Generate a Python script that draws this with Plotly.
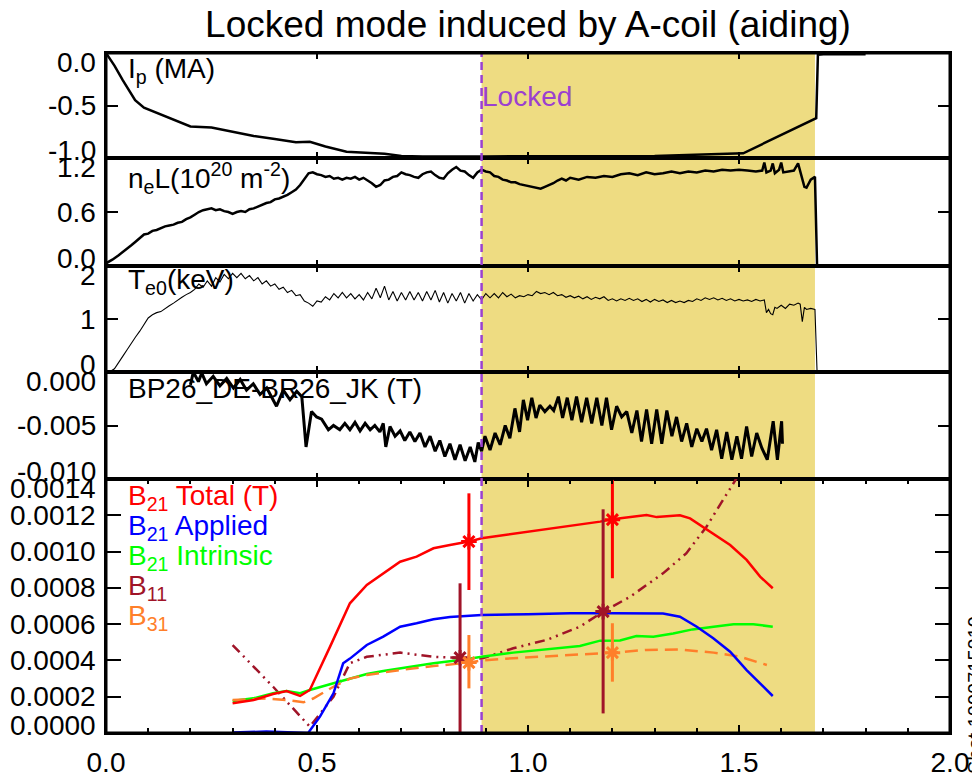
import plotly.graph_objects as go
from plotly.subplots import make_subplots

# ---------------- data ----------------
ip_t = [0.0, 0.02, 0.04, 0.069, 0.09, 0.12, 0.16, 0.20, 0.25, 0.30, 0.35, 0.40, 0.45, 0.483, 0.52, 0.57,
        0.62, 0.66, 0.70, 0.75, 0.90, 1.10, 1.30, 1.51, 1.683, 1.687, 1.70, 1.80]
ip_v = [0.0, -0.12, -0.26, -0.45, -0.52, -0.57, -0.64, -0.70, -0.71, -0.75, -0.79, -0.82, -0.85, -0.845, -0.89, -0.94,
        -0.955, -0.96, -0.98, -0.985, -0.985, -0.98, -0.98, -0.955, -0.62, -0.016, -0.012, -0.012]

ne_t = [0.000, 0.015, 0.030, 0.045, 0.060, 0.070, 0.080, 0.090, 0.100, 0.110, 0.120, 0.130, 0.140, 0.150, 0.160,
        0.170, 0.180, 0.190, 0.200, 0.210, 0.220, 0.230, 0.240, 0.250, 0.260, 0.270, 0.280, 0.290, 0.300, 0.310,
        0.320, 0.330, 0.340, 0.350, 0.360, 0.370, 0.380, 0.390, 0.400, 0.410, 0.420, 0.430, 0.440, 0.450, 0.460,
        0.470, 0.480, 0.490, 0.500, 0.510, 0.520, 0.530, 0.540, 0.550, 0.560, 0.570, 0.580, 0.590, 0.600, 0.610,
        0.620, 0.630, 0.640, 0.650, 0.660, 0.670, 0.680, 0.690, 0.700, 0.710, 0.720, 0.730, 0.740, 0.750, 0.760,
        0.770, 0.780, 0.790, 0.800, 0.810, 0.820, 0.830, 0.840, 0.850, 0.860, 0.870, 0.880, 0.890, 0.900, 0.910,
        0.920, 0.930, 0.940, 0.950, 0.960, 0.970, 0.980, 0.990, 1.000, 1.010, 1.020, 1.030, 1.040, 1.050, 1.060,
        1.070, 1.080, 1.090, 1.100, 1.120, 1.140, 1.160, 1.180, 1.200, 1.220, 1.240, 1.260, 1.280, 1.300, 1.320,
        1.340, 1.360, 1.380, 1.400, 1.420, 1.440, 1.460, 1.480, 1.500, 1.520, 1.540, 1.555, 1.560, 1.565, 1.575,
        1.580, 1.585, 1.595, 1.600, 1.605, 1.620, 1.630, 1.640, 1.645, 1.655, 1.660, 1.670, 1.680, 1.685, 2.000]
ne_v = [0.03, 0.07, 0.12, 0.17, 0.23, 0.27, 0.31, 0.35, 0.36, 0.39, 0.40, 0.42, 0.44, 0.45, 0.46,
        0.48, 0.49, 0.52, 0.54, 0.57, 0.60, 0.62, 0.63, 0.64, 0.62, 0.63, 0.61, 0.60, 0.58, 0.60,
        0.61, 0.60, 0.63, 0.64, 0.66, 0.68, 0.70, 0.71, 0.74, 0.75, 0.77, 0.79, 0.82, 0.85, 0.90,
        0.97, 1.03, 1.04, 1.02, 1.01, 0.99, 1.00, 0.97, 0.98, 0.96, 0.98, 0.97, 0.99, 0.96, 0.98,
        0.95, 0.92, 0.88, 0.90, 0.95, 0.96, 0.99, 1.00, 1.04, 1.02, 1.01, 0.99, 0.98, 1.02, 1.04,
        1.05, 1.01, 0.98, 0.97, 1.03, 1.07, 1.10, 1.06, 1.05, 1.01, 0.98, 1.04, 1.07, 1.05, 1.04,
        1.00, 0.99, 0.96, 0.95, 0.93, 0.93, 0.91, 0.90, 0.89, 0.88, 0.87, 0.86, 0.88, 0.90, 0.92,
        0.95, 0.97, 0.95, 0.98, 0.96, 0.99, 0.98, 1.00, 0.99, 1.02, 1.03, 1.01, 1.04, 1.02, 1.03,
        1.05, 1.03, 1.05, 1.04, 1.06, 1.05, 1.07, 1.06, 1.07, 1.06, 1.05, 1.06, 1.15, 1.04, 1.06,
        1.14, 1.03, 1.07, 1.15, 1.04, 1.05, 1.06, 1.14, 1.05, 0.88, 0.87, 0.96, 0.99, 0.0, 0.0]

te_t = [0.00, 0.01, 0.02, 0.03, 0.04, 0.05, 0.06, 0.07, 0.08, 0.09, 0.10, 0.11, 0.12, 0.13, 0.14, 0.15, 0.16,
        0.17, 0.18, 0.19, 0.20, 0.21, 0.22, 0.23, 0.24, 0.25, 0.26, 0.27, 0.28, 0.29, 0.30, 0.31, 0.32, 0.33,
        0.34, 0.35, 0.36, 0.37, 0.38, 0.39, 0.40, 0.41, 0.42, 0.43, 0.44, 0.45, 0.46, 0.47, 0.48, 0.49, 0.50,
        0.51, 0.52, 0.53, 0.54, 0.55, 0.56, 0.57, 0.58, 0.59, 0.60, 0.61, 0.62, 0.63, 0.64, 0.65, 0.66, 0.67,
        0.68, 0.69, 0.70, 0.71, 0.72, 0.73, 0.74, 0.75, 0.76, 0.77, 0.78, 0.79, 0.80, 0.81, 0.82, 0.83, 0.84,
        0.85, 0.86, 0.87, 0.88, 0.89, 0.90, 0.91, 0.92, 0.93, 0.94, 0.95, 0.96, 0.97, 0.98, 0.99, 1.00, 1.01,
        1.02, 1.03, 1.04, 1.05, 1.06, 1.07, 1.08, 1.09, 1.10, 1.11, 1.12, 1.13, 1.14, 1.15, 1.16, 1.17, 1.18,
        1.19, 1.20, 1.21, 1.22, 1.23, 1.24, 1.25, 1.26, 1.27, 1.28, 1.29, 1.30, 1.31, 1.32, 1.33, 1.34, 1.35,
        1.36, 1.37, 1.38, 1.39, 1.40, 1.41, 1.42, 1.43, 1.44, 1.45, 1.46, 1.47, 1.48, 1.49, 1.50, 1.51, 1.52,
        1.53, 1.54, 1.55, 1.56, 1.565, 1.57, 1.575, 1.58, 1.585, 1.59, 1.60, 1.61, 1.62, 1.63, 1.64, 1.645,
        1.65, 1.655, 1.66, 1.67, 1.68, 1.685, 1.75, 1.85, 1.95, 2.00]
te_v = [0.00, 0.01, 0.06, 0.17, 0.30, 0.42, 0.55, 0.66, 0.77, 0.90, 1.02, 1.08, 1.12, 1.14, 1.20, 1.25, 1.30,
        1.36, 1.41, 1.46, 1.50, 1.56, 1.66, 1.60, 1.72, 1.62, 1.78, 1.70, 1.84, 1.76, 1.86, 1.78, 1.86, 1.76,
        1.82, 1.72, 1.78, 1.66, 1.72, 1.62, 1.66, 1.56, 1.60, 1.50, 1.54, 1.44, 1.46, 1.34, 1.30, 1.24, 1.34,
        1.32, 1.42, 1.36, 1.48, 1.40, 1.50, 1.40, 1.48, 1.38, 1.46, 1.36, 1.50, 1.38, 1.58, 1.40, 1.62, 1.36,
        1.52, 1.34, 1.50, 1.36, 1.52, 1.36, 1.50, 1.34, 1.52, 1.36, 1.54, 1.32, 1.50, 1.30, 1.48, 1.34, 1.50,
        1.30, 1.48, 1.34, 1.46, 1.36, 1.48, 1.40, 1.48, 1.40, 1.50, 1.42, 1.47, 1.40, 1.44, 1.42, 1.46, 1.44,
        1.52, 1.48, 1.50, 1.46, 1.50, 1.44, 1.46, 1.41, 1.44, 1.40, 1.43, 1.38, 1.42, 1.37, 1.41, 1.38, 1.42,
        1.35, 1.38, 1.34, 1.38, 1.35, 1.39, 1.35, 1.38, 1.33, 1.37, 1.32, 1.37, 1.33, 1.36, 1.31, 1.35, 1.31,
        1.34, 1.31, 1.35, 1.33, 1.38, 1.35, 1.40, 1.37, 1.40, 1.36, 1.39, 1.35, 1.38, 1.34, 1.37, 1.34, 1.36,
        1.33, 1.37, 1.34, 1.36, 1.12, 1.18, 1.10, 1.08, 1.22, 1.20, 1.26, 1.20, 1.28, 1.26, 1.30, 1.28,
        0.95, 1.22, 1.18, 1.20, 1.18, 0.00, 0.01, 0.00, 0.02, 0.01]

bp_t = [0.200, 0.207, 0.219, 0.227, 0.238, 0.254, 0.270, 0.286, 0.302, 0.318, 0.333, 0.349, 0.365, 0.381, 0.404,
        0.420, 0.436, 0.452, 0.464, 0.474, 0.487, 0.499, 0.511, 0.527, 0.539, 0.554, 0.566, 0.578, 0.590, 0.602,
        0.614, 0.626, 0.637, 0.649, 0.657, 0.663, 0.673, 0.685, 0.697, 0.708, 0.720, 0.732, 0.744, 0.756, 0.768,
        0.780, 0.791, 0.803, 0.815, 0.827, 0.839, 0.851, 0.863, 0.874, 0.882, 0.890, 0.898, 0.910, 0.922, 0.934,
        0.946, 0.957, 0.969, 0.980, 0.989, 0.999, 1.009, 1.019, 1.028, 1.040, 1.052, 1.061, 1.072, 1.082, 1.093,
        1.104, 1.115, 1.127, 1.139, 1.151, 1.163, 1.175, 1.186, 1.198, 1.210, 1.222, 1.234, 1.246, 1.258, 1.269,
        1.281, 1.293, 1.305, 1.317, 1.329, 1.341, 1.352, 1.364, 1.376, 1.388, 1.400, 1.412, 1.423, 1.435, 1.447,
        1.459, 1.471, 1.483, 1.495, 1.506, 1.518, 1.530, 1.542, 1.554, 1.567, 1.581, 1.591, 1.601, 1.603]
bp_v = [-0.0012, 0.0000, -0.0009, -0.0001, -0.0011, -0.0004, -0.0013, -0.0006, -0.0015, -0.0007, -0.0017, -0.0011,
        -0.0021, -0.0015, -0.0032, -0.0017, -0.0026, -0.0018, -0.0023, -0.0070, -0.0037, -0.0042, -0.0044, -0.0054,
        -0.0050, -0.0054, -0.0048, -0.0054, -0.0047, -0.0055, -0.0048, -0.0054, -0.0050, -0.0056, -0.0048, -0.0070,
        -0.0051, -0.0060, -0.0055, -0.0064, -0.0056, -0.0065, -0.0057, -0.0070, -0.0060, -0.0074, -0.0064, -0.0079,
        -0.0067, -0.0082, -0.0068, -0.0083, -0.0070, -0.0084, -0.0066, -0.0074, -0.0060, -0.0073, -0.0057, -0.0068,
        -0.0050, -0.0062, -0.0034, -0.0056, -0.0026, -0.0045, -0.0024, -0.0043, -0.0031, -0.0037, -0.0032, -0.0036,
        -0.0023, -0.0043, -0.0024, -0.0045, -0.0023, -0.0047, -0.0024, -0.0048, -0.0024, -0.0050, -0.0024, -0.0054,
        -0.0032, -0.0042, -0.0037, -0.0057, -0.0036, -0.0065, -0.0035, -0.0067, -0.0035, -0.0067, -0.0036, -0.0060,
        -0.0042, -0.0065, -0.0048, -0.0070, -0.0053, -0.0065, -0.0053, -0.0073, -0.0054, -0.0081, -0.0056, -0.0082,
        -0.0060, -0.0081, -0.0051, -0.0079, -0.0057, -0.0071, -0.0082, -0.0046, -0.0082, -0.0046, -0.0067]

red_t = [0.30, 0.35, 0.396, 0.428, 0.46, 0.483, 0.531, 0.578, 0.618, 0.657, 0.697, 0.736, 0.776, 0.815, 0.86,
         0.89, 0.965, 1.005, 1.06, 1.123, 1.171, 1.2, 1.242, 1.281, 1.305, 1.36, 1.384, 1.423, 1.479, 1.518, 1.55, 1.58]
red_v = [0.000164, 0.000182, 0.000215, 0.000231, 0.000204, 0.000237, 0.000476, 0.000715, 0.000816, 0.00088,
         0.000944, 0.000972, 0.001018, 0.001036, 0.001055, 0.001073, 0.001097, 0.00111, 0.001128, 0.001146,
         0.001165, 0.001178, 0.001189, 0.001202, 0.00119, 0.0012, 0.001183, 0.001123, 0.001036, 0.000954,
         0.000862, 0.000798]

blue_t = [0.30, 0.38, 0.479, 0.507, 0.539, 0.562, 0.578, 0.618, 0.657, 0.697, 0.736, 0.776, 0.815, 0.89, 1.0,
          1.1, 1.2, 1.3, 1.32, 1.36, 1.40, 1.439, 1.479, 1.518, 1.58]
blue_v = [0.000003, 0.000008, 0.000000, 0.00009, 0.000219, 0.000384, 0.00041, 0.000485, 0.000531, 0.000586,
          0.000605, 0.000627, 0.00064, 0.00065, 0.000655, 0.00066, 0.00066, 0.00066, 0.000658, 0.000641,
          0.000586, 0.000522, 0.000448, 0.000347, 0.000204]

green_t = [0.30, 0.349, 0.396, 0.428, 0.46, 0.483, 0.539, 0.578, 0.618, 0.657, 0.697, 0.776, 0.854, 0.89, 0.965,
           1.044, 1.123, 1.171, 1.218, 1.257, 1.297, 1.344, 1.39, 1.44, 1.487, 1.534, 1.58]
green_v = [0.000176, 0.000191, 0.000219, 0.000232, 0.000219, 0.000237, 0.000274, 0.000301, 0.000325, 0.000342,
           0.000357, 0.000384, 0.000406, 0.00042, 0.000443, 0.000461, 0.00048, 0.000509, 0.00051, 0.000535,
           0.00053, 0.000549, 0.000571, 0.000586, 0.000599, 0.000599, 0.000586]

orange_t = [0.30, 0.381, 0.428, 0.468, 0.491, 0.539, 0.578, 0.618, 0.697, 0.776, 0.86, 0.89, 0.965, 1.044,
            1.123, 1.2, 1.281, 1.36, 1.44, 1.503, 1.566]
orange_v = [0.000182, 0.00019, 0.000182, 0.000169, 0.00019, 0.000255, 0.0003, 0.00032, 0.000347, 0.000369,
            0.000388, 0.0004, 0.000412, 0.000422, 0.000434, 0.000443, 0.000458, 0.00046, 0.000443, 0.00042, 0.000375]

b11_t = [0.30, 0.396, 0.483, 0.539, 0.578, 0.618, 0.697, 0.776, 0.839, 0.89, 0.965, 1.044, 1.123, 1.178, 1.242,
         1.32, 1.375, 1.423, 1.462, 1.494, 1.52]
b11_v = [0.000485, 0.000255, 0.000035, 0.0002, 0.000385, 0.00042, 0.000443, 0.00042, 0.000415, 0.00041,
         0.000467, 0.000513, 0.000586, 0.000669, 0.000751, 0.00088, 0.00099, 0.001137, 0.001284, 0.0014, 0.0015]

# error-bar points (value, upper end, lower end)
red_err_t = [0.86, 1.2]
red_err_v = [0.001055, 0.001176]
red_err_hi = [0.001321, 0.001395]
red_err_lo = [0.000788, 0.000853]
b11_err_t = [0.839, 1.178]
b11_err_v = [0.000415, 0.000669]
b11_err_hi = [0.000825, 0.001233]
b11_err_lo = [0.0, 0.000108]
orange_err_t = [0.86, 1.2]
orange_err_v = [0.000388, 0.000443]
orange_err_hi = [0.00054, 0.000605]
orange_err_lo = [0.000246, 0.000283]

locked_t = 0.89
shade_end_t = 1.68

p1_ticks = [0.0, -0.5, -1.0]
p1_labels = ["0.0", "-0.5", "-1.0"]
p2_ticks = [1.2, 0.6, 0.0]
p2_labels = ["1.2", "0.6", "0.0"]
p3_ticks = [2, 1, 0]
p3_labels = ["2", "1", "0"]
p4_ticks = [0.0, -0.005, -0.010]
p4_labels = ["0.000", "-0.005", "-0.010"]
p5_ticks = [0.0014, 0.0012, 0.0010, 0.0008, 0.0006, 0.0004, 0.0002, 0.0]
p5_labels = ["0.0014", "0.0012", "0.0010", "0.0008", "0.0006", "0.0004", "0.0002", "0.0000"]
x_ticks = [0.0, 0.5, 1.0, 1.5, 2.0]
x_labels = ["0.0", "0.5", "1.0", "1.5", "2.0"]

# ---------------- styling ----------------
FONT = "Liberation Sans"
FS = 28
RED = "#FF0000"
BLUE = "#0000FF"
GREEN = "#00FF00"
DRED = "#A01428"
ORANGE = "#FF7F2A"
PURPLE = "#9B40D0"
SHADE = "#EEDC82"

W, H = 972, 777
L, R, T, B = 106, 22, 53, 44
PW, PH = W - L - R, H - T - B


def px(xp):
    return (xp - L) / PW


def py(yp):
    return (H - B - yp) / PH


fig = make_subplots(rows=5, cols=1, shared_xaxes=True, vertical_spacing=0,
                    row_heights=[105, 108, 106, 107, 254])

fig.add_trace(go.Scatter(x=ip_t, y=ip_v, mode="lines", line=dict(color="black", width=2.5)), row=1, col=1)
fig.add_trace(go.Scatter(x=ne_t, y=ne_v, mode="lines", line=dict(color="black", width=2.5)), row=2, col=1)
fig.add_trace(go.Scatter(x=te_t, y=te_v, mode="lines", line=dict(color="black", width=1.1)), row=3, col=1)
fig.add_trace(go.Scatter(x=bp_t, y=bp_v, mode="lines", line=dict(color="black", width=3)), row=4, col=1)

fig.add_trace(go.Scatter(x=b11_t, y=b11_v, mode="lines",
                         line=dict(color=DRED, width=2.5, dash="10px,5px,2px,5px,2px,5px")), row=5, col=1)
fig.add_trace(go.Scatter(x=green_t, y=green_v, mode="lines", line=dict(color=GREEN, width=2.5)), row=5, col=1)
fig.add_trace(go.Scatter(x=orange_t, y=orange_v, mode="lines",
                         line=dict(color=ORANGE, width=2.5, dash="13px,7px")), row=5, col=1)
fig.add_trace(go.Scatter(x=blue_t, y=blue_v, mode="lines", line=dict(color=BLUE, width=2.5)), row=5, col=1)
fig.add_trace(go.Scatter(x=red_t, y=red_v, mode="lines", line=dict(color=RED, width=2.5)), row=5, col=1)


def err_trace(t, v, hi, lo, color):
    return go.Scatter(
        x=t, y=v, mode="markers",
        marker=dict(symbol="asterisk-open", size=13, color=color, line=dict(color=color, width=3)),
        error_y=dict(type="data", symmetric=False,
                     array=[h - a for h, a in zip(hi, v)],
                     arrayminus=[a - l for a, l in zip(v, lo)],
                     width=0, thickness=3, color=color))


fig.add_trace(err_trace(b11_err_t, b11_err_v, b11_err_hi, b11_err_lo, DRED), row=5, col=1)
fig.add_trace(err_trace(orange_err_t, orange_err_v, orange_err_hi, orange_err_lo, ORANGE), row=5, col=1)
fig.add_trace(err_trace(red_err_t, red_err_v, red_err_hi, red_err_lo, RED), row=5, col=1)

# shaded locked interval and locked marker line
fig.add_shape(type="rect", xref="x5", yref="paper", x0=locked_t, x1=shade_end_t, y0=0, y1=1,
              fillcolor=SHADE, line=dict(width=0), layer="below")
fig.add_shape(type="line", xref="x5", yref="paper", x0=locked_t, x1=locked_t, y0=0, y1=1,
              line=dict(color=PURPLE, width=2.5, dash="8px,5px"), layer="above")
# outer frame
fig.add_shape(type="rect", xref="paper", yref="paper", x0=0, x1=1, y0=0, y1=1,
              line=dict(color="black", width=3), fillcolor="rgba(0,0,0,0)", layer="above")

ranges = [[-1.0, 0.0], [0.0, 1.2], [0.0, 2.0], [-0.010, 0.0], [0.0, 0.0014]]
tickv = [p1_ticks, p2_ticks, p3_ticks, p4_ticks, p5_ticks]
tickl = [p1_labels, p2_labels, p3_labels, p4_labels, p5_labels]

for i in range(5):
    r = i + 1
    fig.update_yaxes(row=r, col=1, range=ranges[i], tickvals=tickv[i], showticklabels=False,
                     ticks="inside", ticklen=15 if r == 5 else 12, tickwidth=2, tickcolor="black",
                     showline=True, linecolor="black", linewidth=1.5, mirror="ticks",
                     showgrid=False, zeroline=False, fixedrange=True, automargin=False)
    fig.update_xaxes(row=r, col=1, range=[0, 2.0], tickvals=x_ticks, ticktext=x_labels,
                     ticks="inside", ticklen=8 if r == 5 else 6, tickwidth=2, tickcolor="black",
                     showline=True, linecolor="black", linewidth=1.6, mirror="ticks",
                     showgrid=False, zeroline=False, showticklabels=(r == 5), automargin=False)

fig.update_xaxes(row=5, col=1, minor=dict(dtick=0.1, ticks="inside", ticklen=5, tickwidth=2, tickcolor="black"),
                 tickfont=dict(family=FONT, size=FS, color="black"), ticklabelstandoff=4)

annotations = []
# y tick labels
for i in range(5):
    yref = "y" if i == 0 else "y%d" % (i + 1)
    n = len(tickv[i])
    for j, (val, lab) in enumerate(zip(tickv[i], tickl[i])):
        shift = -9 if j == 0 else (8 if j == n - 1 else 0)
        annotations.append(dict(x=px(98), y=val, xref="paper", yref=yref, text=lab, showarrow=False,
                                xanchor="right", yanchor="middle", yshift=shift,
                                font=dict(family=FONT, size=FS, color="black")))

# panel labels
panel_labels = [
    ("I<sub>p</sub> (MA)", 70),
    ("n<sub>e</sub>L(10<sup>20</sup> m<sup>-2</sup>)", 178),
    ("T<sub>e0</sub>(keV)", 281),
    ("BP26_DE-BR26_JK (T)", 388),
]
for txt, yc in panel_labels:
    annotations.append(dict(x=px(126), y=py(yc), xref="paper", yref="paper", text=txt, showarrow=False,
                            xanchor="left", yanchor="middle", font=dict(family=FONT, size=FS, color="black")))

legend_items = [
    ("B<sub>21</sub> Total (T)", RED, 497),
    ("B<sub>21</sub> Applied", BLUE, 527),
    ("B<sub>21</sub> Intrinsic", GREEN, 557),
    ("B<sub>11</sub>", DRED, 587),
    ("B<sub>31</sub>", ORANGE, 617),
]
for txt, col, yc in legend_items:
    annotations.append(dict(x=px(126), y=py(yc), xref="paper", yref="paper", text=txt, showarrow=False,
                            xanchor="left", yanchor="middle", font=dict(family=FONT, size=FS, color=col)))

annotations.append(dict(x=locked_t, y=py(96), xref="x5", yref="paper", text="Locked", showarrow=False,
                        xanchor="left", yanchor="middle", xshift=-2,
                        font=dict(family=FONT, size=FS, color=PURPLE)))

annotations.append(dict(x=px(975), y=py(695), xref="paper", yref="paper", text="Shot 1090715019",
                        showarrow=False, textangle=-90, xanchor="center", yanchor="middle",
                        font=dict(family=FONT, size=20, color="black")))

fig.update_layout(
    width=W, height=H, autosize=False,
    margin=dict(l=L, r=R, t=T, b=B, autoexpand=False),
    paper_bgcolor="white", plot_bgcolor="white",
    showlegend=False,
    title=dict(text="Locked mode induced by A-coil (aiding)", x=0.5, xref="paper",
               y=1 - 24 / H, yref="container", yanchor="middle", xanchor="center",
               font=dict(family=FONT, size=37, color="black")),
    annotations=annotations,
)

fig.write_html("out.html", config={"displayModeBar": False},
               post_script="document.body.style.margin='0';document.body.style.overflow='hidden';")
